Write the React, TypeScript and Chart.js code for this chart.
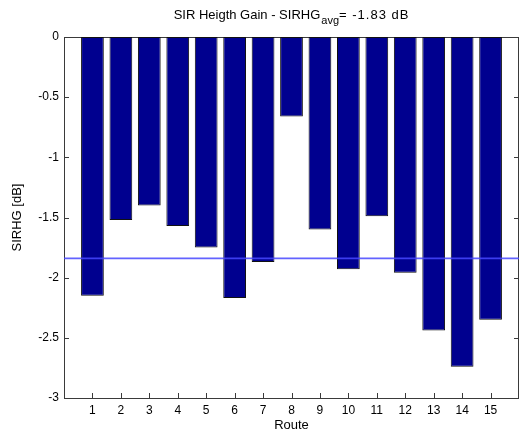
import React, { useEffect, useRef } from 'react';
import { Chart, registerables } from 'chart.js';

Chart.register(...registerables);

const routes = [1, 2, 3, 4, 5, 6, 7, 8, 9, 10, 11, 12, 13, 14, 15];
const sirhg = [-2.15, -1.52, -1.4, -1.57, -1.75, -2.17, -1.87, -0.66, -1.6, -1.93, -1.49, -1.96, -2.44, -2.74, -2.35];
const avgValue = -1.84;
const titleMain = 'SIR Heigth Gain - SIRHG';
const titleSub = 'avg';
const titleTail = '= -1.83 dB';
const xTitle = 'Route';
const yTitle = 'SIRHG [dB]';
const xMin = 0;
const xMax = 16;
const yMin = -3;
const yMax = 0;

const FONT = '"Liberation Sans", Arial, Helvetica, sans-serif';

const matlabAxes = {
  id: 'matlabAxes',
  beforeDatasetsDraw(chart: any) {
    const { ctx, chartArea } = chart;
    const { left, right, top, bottom } = chartArea;
    const xs = chart.scales.x;
    const ys = chart.scales.y;
    ctx.save();
    ctx.strokeStyle = '#3a3a3a';
    ctx.lineWidth = 1;
    ctx.beginPath();
    const tl = 5;
    xs.ticks.forEach((t: any) => {
      if (t.value <= xMin || t.value >= xMax) return;
      const px = Math.round(xs.getPixelForValue(t.value)) + 0.5;
      ctx.moveTo(px, bottom);
      ctx.lineTo(px, bottom - tl);
      ctx.moveTo(px, top);
      ctx.lineTo(px, top + tl);
    });
    ys.ticks.forEach((t: any) => {
      if (t.value <= yMin || t.value >= yMax) return;
      const py = Math.round(ys.getPixelForValue(t.value)) + 0.5;
      ctx.moveTo(left, py);
      ctx.lineTo(left + tl, py);
      ctx.moveTo(right, py);
      ctx.lineTo(right - tl, py);
    });
    ctx.stroke();
    ctx.strokeRect(Math.round(left) + 0.5, Math.round(top) + 0.5, Math.round(right - left) - 1, Math.round(bottom - top));
    ctx.restore();
  },
  afterDraw(chart: any) {
    const { ctx, chartArea } = chart;
    ctx.save();
    ctx.fillStyle = '#000';
    ctx.textBaseline = 'alphabetic';
    ctx.textAlign = 'left';
    const mainFont = `13px ${FONT}`;
    const subFont = `11px ${FONT}`;
    ctx.font = mainFont;
    const w1 = ctx.measureText(titleMain).width;
    ctx.font = subFont;
    const w2 = ctx.measureText(titleSub).width;
    ctx.font = mainFont;
    (ctx as any).letterSpacing = '1px';
    const w3 = ctx.measureText(titleTail).width;
    (ctx as any).letterSpacing = '0px';
    const total = w1 + 1 + w2 + w3;
    const cx = (chartArea.left + chartArea.right) / 2;
    let x = cx - total / 2;
    const base = 19;
    ctx.font = mainFont;
    ctx.fillText(titleMain, x, base);
    x += w1 + 1;
    ctx.font = subFont;
    ctx.fillText(titleSub, x, base + 5);
    x += w2;
    ctx.font = mainFont;
    (ctx as any).letterSpacing = '1px';
    ctx.fillText(titleTail, x, base);
    (ctx as any).letterSpacing = '0px';
    ctx.restore();
  },
};

export default function App() {
  const ref = useRef<HTMLCanvasElement | null>(null);
  useEffect(() => {
    if (!ref.current) return;
    const chart = new Chart(ref.current, {
      type: 'bar',
      data: {
        datasets: [
          {
            type: 'line',
            data: [
              { x: xMin, y: avgValue },
              { x: xMax, y: avgValue },
            ],
            borderColor: 'rgba(70,70,255,0.85)',
            borderWidth: 1.6,
            pointRadius: 0,
            fill: false,
            order: 0,
          } as any,
          {
            type: 'bar',
            data: routes.map((r, i) => ({ x: r, y: sirhg[i] })),
            backgroundColor: '#00008f',
            borderColor: '#111',
            borderWidth: 1,
            borderSkipped: false,
            barPercentage: 0.8,
            categoryPercentage: 1,
            order: 1,
          } as any,
        ],
      },
      options: {
        responsive: false,
        animation: false,
        devicePixelRatio: 1,
        layout: { padding: { left: 0, right: 3, top: 37, bottom: 0 } },
        plugins: {
          legend: { display: false },
          tooltip: { enabled: false },
          title: { display: false },
        },
        scales: {
          x: {
            type: 'linear',
            position: 'bottom',
            min: xMin,
            max: xMax,
            offset: false,
            grid: { display: false, drawTicks: false },
            border: { display: false },
            ticks: {
              stepSize: 1,
              autoSkip: false,
              maxRotation: 0,
              padding: 5,
              color: '#000',
              font: { family: FONT, size: 12 },
              callback: (v: any) => (v >= 1 && v <= 15 ? String(v) : ''),
            },
            title: {
              display: true,
              text: xTitle,
              color: '#000',
              font: { family: FONT, size: 13 },
              padding: { top: 0, bottom: 1 },
            },
            afterFit: (s: any) => {
              s.height = 36;
            },
          },
          y: {
            type: 'linear',
            position: 'left',
            min: yMin,
            max: yMax,
            grid: { display: false, drawTicks: false },
            border: { display: false },
            ticks: {
              stepSize: 0.5,
              padding: 5,
              color: '#000',
              font: { family: FONT, size: 12 },
              callback: (v: any) => String(Math.round(v * 10) / 10),
            },
            title: {
              display: true,
              text: yTitle,
              color: '#000',
              font: { family: FONT, size: 13 },
              padding: { top: 10, bottom: 0 },
            },
            afterFit: (s: any) => {
              s.width = 64;
            },
          },
        },
      },
      plugins: [matlabAxes],
    });
    return () => chart.destroy();
  }, []);
  return (
    <div style={{ position: 'fixed', left: 0, top: 0, width: 524, height: 434, background: '#fff' }}>
      <canvas ref={ref} width={524} height={434} style={{ display: 'block' }} />
    </div>
  );
}
